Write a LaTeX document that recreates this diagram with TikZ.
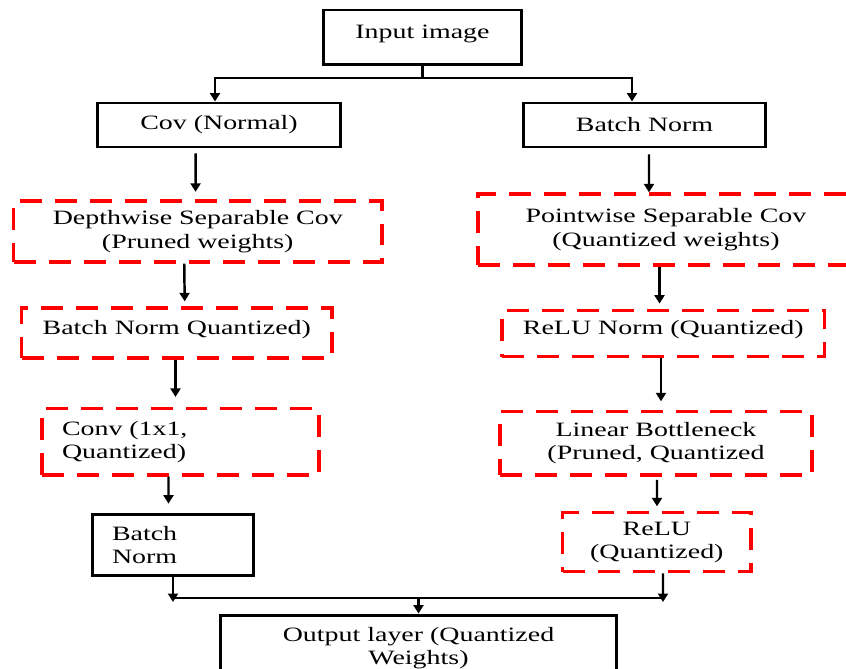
\documentclass[tikz,border=0pt]{standalone}
\usepackage{fontspec}
\setmainfont{Liberation Serif}[FakeStretch = 1.37]
\usetikzlibrary{arrows.meta, calc}

\begin{document}
\begin{tikzpicture}[x = 0.02cm, y = -0.02cm, >={Triangle[length = 0.17cm, width = 0.2cm]},
		every node/.style = {font = \fontsize{11.6}{13.3}\selectfont, align = center, inner sep = 0pt},
		solidbox/.style = {draw, line width = 1.7pt},
		dashbox/.style = {draw = red, line width = 1.9pt, dash pattern = on 0.44cm off 0.26cm},
		arr/.style = {->, line width = 1.4pt},
		lift/.style = {text height = 9pt, text depth = 7.5pt}]
	
		\useasboundingbox (0, 0) rectangle (846, 669);
		
		\begin{scope}
			\clip (0, 0) rectangle (846, 669);
			
			\node[solidbox, lift, minimum width = 3.98cm, minimum height = 1.1cm] (input) at (422.5, 37.5) {Input image};
			\node[solidbox, minimum width = 4.88cm, minimum height = 0.88cm] (covn) at (219, 125) {Cov (Normal)};
			\node[solidbox, minimum width = 4.86cm, minimum height = 0.88cm] (bnorm) at (644.5, 125) {Batch Norm};
			\node[dashbox, minimum width = 7.37cm, minimum height = 1.22cm] (depth) at (197.75, 231.5) {Depthwise Separable Cov\\(Pruned weights)};
			\node[dashbox, minimum width = 7.52cm, minimum height = 1.42cm] (point) at (666, 229.5) {Pointwise Separable Cov\\(Quantized weights)};
			\node[dashbox, lift, minimum width = 6.21cm, minimum height = 1.0cm] (bnq) at (176.8, 333) {Batch Norm Quantized)};
			\node[dashbox, lift, minimum width = 6.45cm, minimum height = 0.93cm] (relun) at (663.3, 333.5) {ReLU Norm (Quantized)};
			\node[dashbox, align = left, text width = 4.74cm, inner xsep = 0.4cm, minimum height = 1.33cm] (conv) at (180.5, 441.8) {Conv (1x1,\\Quantized)};
			\node[dashbox, minimum width = 6.24cm, minimum height = 1.27cm] (linb) at (656, 443.4) {Linear Bottleneck\\(Pruned, Quantized};
			\node[solidbox, align = left, text width = 2.44cm, inner xsep = 0.39cm, minimum height = 1.22cm] (bnl) at (173, 545.3) {Batch\\Norm};
			\node[dashbox, minimum width = 3.77cm, minimum height = 1.18cm] (relu) at (656.85, 542.2) {ReLU\\(Quantized)};
			\node[solidbox, minimum width = 7.94cm, minimum height = 1.32cm] (out) at (418.5, 648) {Output layer (Quantized\\Weights)};
			
			\coordinate (split) at (422.5, 78);
			\draw[line width = 1.4pt] (input.south) -- (split);
			\draw[arr] (split) -| ($(covn.north) + (-4, 0)$);
			\draw[arr] (split) -| ($(bnorm.north) + (-12.5, 0)$);
			
			\draw[arr] ($(covn.south) + (-23.4, 5)$) -- ($(depth.north) + (-2.2, -7.5)$);
			\draw[arr] ($(bnorm.south) + (4.5, 6)$) -- ($(point.north) + (-17, 0)$);
			\draw[arr] ($(depth.south) + (-13.5, 0)$) -- ($(bnq.north) + (7.9, -5)$);
			\draw[arr] ($(point.south) + (-6.5, 0)$) -- ($(relun.north) + (-3.8, -5)$);
			\draw[arr] ($(bnq.south) + (-1.3, 0)$) -- ($(conv.north) + (-5, -10)$);
			\draw[arr] ($(relun.south) + (-2.3, 0)$) -- ($(linb.north) + (5, -8.7)$);
			\draw[arr] ($(conv.south) + (-12, 0)$) -- ($(bnl.north) + (-4.5, -9.7)$);
			\draw[arr] ($(linb.south) + (1, 3)$) -- ($(relu.north) + (0.15, -4.7)$);
			
			\coordinate (merge) at (418.5, 598);
			\coordinate (mergel) at (173, 602);
			\coordinate (merger) at (663, 602);
			\draw[arr] (bnl.south) -- (mergel);
			\draw[arr] ($(relu.south) + (6.15, 0)$) -- (merger);
			\draw[line width = 1.4pt] (mergel |- merge) -- (merger |- merge);
			\draw[arr] (merge) -- (out.north);
		\end{scope}
		
	\end{tikzpicture}
\end{document}
